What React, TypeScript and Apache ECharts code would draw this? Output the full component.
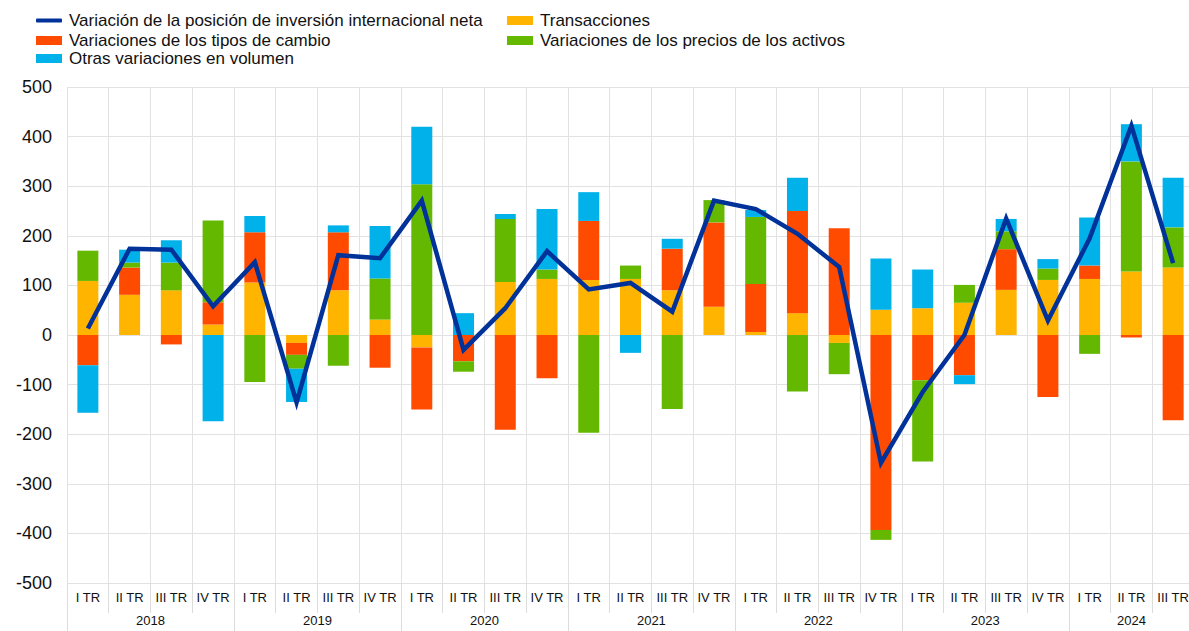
import React, { useEffect, useRef } from 'react';
import * as echarts from 'echarts';

const years = ['2018', '2019', '2020', '2021', '2022', '2023', '2024'];
const quartersPerYear = [4, 4, 4, 4, 4, 4, 3];
const quarters = [
  'I TR', 'II TR', 'III TR', 'IV TR',
  'I TR', 'II TR', 'III TR', 'IV TR',
  'I TR', 'II TR', 'III TR', 'IV TR',
  'I TR', 'II TR', 'III TR', 'IV TR',
  'I TR', 'II TR', 'III TR', 'IV TR',
  'I TR', 'II TR', 'III TR', 'IV TR',
  'I TR', 'II TR', 'III TR',
];

const transacciones = [109, 81, 90, 21, 106, -16, 90, 31, -25, 0, 107, 113, 111, 113, 90, 57, 6, 44, -16, 51, 54, 65, 91, 111, 113, 128, 136];
const tiposCambio = [-61, 55, -19, 45, 101, -24, 117, -66, -125, -53, -191, -87, 119, 0, 84, 170, 97, 206, 215, -393, -91, -81, 82, -125, 27, -5, -172];
const preciosActivos = [61, 10, 56, 165, -95, -28, -62, 83, 304, -21, 127, 19, -197, 27, -149, 45, 135, -114, -63, -20, -164, 36, 36, 23, -38, 222, 81];
const otrasVariaciones = [-96, 26, 45, -174, 33, -67, 14, 106, 116, 44, 10, 122, 58, -36, 20, 0, 14, 67, 0, 103, 78, -18, 25, 19, 97, 75, 100];
const posicionNeta = [13, 174, 172, 58, 147, -136, 161, 155, 271, -30, 54, 169, 92, 105, 47, 271, 254, 204, 137, -258, -115, 0, 235, 29, 195, 422, 145];

const yTicks = [-500, -400, -300, -200, -100, 0, 100, 200, 300, 400, 500];

const NAMES = {
  neta: 'Variación de la posición de inversión internacional neta',
  trans: 'Transacciones',
  tipos: 'Variaciones de los tipos de cambio',
  precios: 'Variaciones de los precios de los activos',
  otras: 'Otras variaciones en volumen',
};

const COLORS = {
  neta: '#003299',
  trans: '#ffb400',
  tipos: '#ff4b00',
  precios: '#65b800',
  otras: '#00b1ea',
};

// year axis built in half-quarter units (boundaryGap false)
const halfUnits = quarters.length * 2;
const yearAxisData: string[] = [];
const yearLabelIdx = new Set<number>();
const yearBoundIdx = new Set<number>();
{
  for (let i = 0; i <= halfUnits; i++) yearAxisData.push('');
  let start = 0;
  years.forEach((y, k) => {
    const c = quartersPerYear[k];
    yearBoundIdx.add(start * 2);
    const mid = start * 2 + c;
    yearAxisData[mid] = y;
    yearLabelIdx.add(mid);
    start += c;
  });
  yearBoundIdx.add(start * 2);
}

const FONT = '"Liberation Sans", Arial, Helvetica, sans-serif';

function legendItem(name: string, left: number, top: number, isLine = false) {
  return {
    show: true,
    data: [name],
    left,
    top,
    padding: 0,
    itemWidth: 26,
    itemHeight: isLine ? 4 : 9,
    itemGap: 0,
    icon: isLine ? 'roundRect' : 'rect',
    textStyle: { fontFamily: FONT, fontSize: 17, color: '#111', padding: [0, 0, 0, 2] },
    selectedMode: false,
  };
}

export default function App() {
  const ref = useRef<HTMLDivElement>(null);
  useEffect(() => {
    if (!ref.current) return;
    const chart = echarts.init(ref.current, undefined, { renderer: 'svg' });
    const barCommon = {
      type: 'bar',
      stack: 'total',
      barWidth: 21,
      xAxisIndex: 0,
      yAxisIndex: 0,
    };
    chart.setOption({
      animation: false,
      backgroundColor: '#ffffff',
      textStyle: { fontFamily: FONT },
      legend: [
        legendItem(NAMES.neta, 36, 12, true),
        legendItem(NAMES.trans, 507, 12),
        legendItem(NAMES.tipos, 36, 32),
        legendItem(NAMES.precios, 507, 32),
        legendItem(NAMES.otras, 36, 50),
      ],
      grid: { left: 67, right: 0, top: 87, bottom: 48, containLabel: false },
      xAxis: [
        {
          type: 'category',
          data: quarters,
          position: 'bottom',
          boundaryGap: true,
          axisLine: { show: false, onZero: false },
          axisTick: { show: true, interval: 0, length: 30, lineStyle: { color: '#dcdcdc' } },
          axisLabel: { interval: 0, margin: 8, fontSize: 13, color: '#111', fontFamily: FONT },
          splitLine: { show: true, interval: 0, lineStyle: { color: '#e2e2e2', width: 1 } },
        },
        {
          type: 'category',
          data: yearAxisData,
          position: 'bottom',
          boundaryGap: false,
          axisLine: { show: false, onZero: false },
          axisTick: {
            show: true,
            length: 48,
            interval: (i: number) => yearBoundIdx.has(i),
            lineStyle: { color: '#dcdcdc' },
          },
          axisLabel: {
            interval: (i: number) => yearLabelIdx.has(i),
            margin: 31,
            fontSize: 13,
            color: '#111',
            fontFamily: FONT,
          },
          splitLine: { show: false },
        },
      ],
      yAxis: {
        type: 'value',
        min: yTicks[0],
        max: yTicks[yTicks.length - 1],
        interval: 100,
        axisLine: { show: false },
        axisTick: { show: false },
        axisLabel: { fontSize: 18, color: '#111', margin: 15, fontFamily: FONT },
        splitLine: { show: true, lineStyle: { color: '#e2e2e2', width: 1 } },
      },
      series: [
        { ...barCommon, name: NAMES.trans, data: transacciones, itemStyle: { color: COLORS.trans } },
        { ...barCommon, name: NAMES.tipos, data: tiposCambio, itemStyle: { color: COLORS.tipos } },
        { ...barCommon, name: NAMES.precios, data: preciosActivos, itemStyle: { color: COLORS.precios } },
        { ...barCommon, name: NAMES.otras, data: otrasVariaciones, itemStyle: { color: COLORS.otras } },
        {
          type: 'line',
          name: NAMES.neta,
          data: posicionNeta,
          xAxisIndex: 0,
          yAxisIndex: 0,
          symbol: 'none',
          showSymbol: false,
          z: 10,
          lineStyle: { color: COLORS.neta, width: 4.5, join: 'miter' },
          itemStyle: { color: COLORS.neta },
        },
      ],
    });
    return () => chart.dispose();
  }, []);
  return (
    <div style={{ position: 'absolute', left: 0, top: 0, width: 1189, height: 631, overflow: 'hidden' }}>
      <div ref={ref} style={{ width: 1194, height: 631 }} />
    </div>
  );
}
